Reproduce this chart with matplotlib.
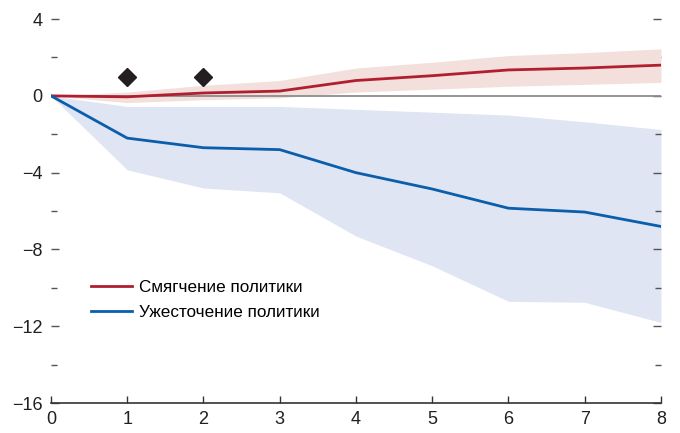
import matplotlib.pyplot as plt
from matplotlib.ticker import FixedLocator, NullFormatter

plt.rcParams['font.family'] = ['Liberation Sans', 'DejaVu Sans']
plt.rcParams['font.size'] = 13

steps = [0, 1, 2, 3, 4, 5, 6, 7, 8]

# easing
ease_mid = [0, -0.05, 0.15, 0.25, 0.8, 1.05, 1.35, 1.45, 1.6]
ease_hi = [0, 0.2, 0.55, 0.8, 1.45, 1.75, 2.1, 2.25, 2.45]
ease_lo = [0, -0.35, -0.2, -0.1, 0.2, 0.35, 0.5, 0.6, 0.7]

# tightening
tight_mid = [0, -2.2, -2.7, -2.8, -4.0, -4.85, -5.85, -6.05, -6.8]
tight_hi = [0, -0.55, -0.55, -0.55, -0.7, -0.85, -1.0, -1.35, -1.75]
tight_lo = [0, -3.85, -4.8, -5.05, -7.3, -8.85, -10.7, -10.75, -11.8]

marker_x = [1, 2]
marker_y = [1, 1]

labels = ['Смягчение политики', 'Ужесточение политики']

red = '#b01f30'
blue = '#0b5eab'

fig = plt.figure(figsize=(6.8, 4.33), dpi=100)
ax = fig.add_axes([0.075, 0.069, 0.897, 0.887])

ax.fill_between(steps, tight_lo, tight_hi, color='#dfe5f2', lw=0, zorder=1)
ax.fill_between(steps, ease_lo, ease_hi, color='#f3dfdb', lw=0, zorder=2)
ax.axhline(0, color='#8c8c8c', lw=1.3, zorder=3)
ax.plot(steps, ease_mid, color=red, lw=2, zorder=4, label=labels[0])
ax.plot(steps, tight_mid, color=blue, lw=2, zorder=4, label=labels[1])
ax.plot(marker_x, marker_y, 'D', color='#231f20', markersize=9, ls='none', zorder=5)

ax.set_xlim(0, 8)
ax.set_ylim(-16, 4)
ax.set_xticks(steps)
ax.set_yticks([-16, -12, -8, -4, 0, 4])
ax.set_yticklabels(['\u221216', '\u221212', '\u22128', '\u22124', '0', '4'])
ax.yaxis.set_minor_locator(FixedLocator([-14, -10, -6, -2, 2]))
ax.yaxis.set_minor_formatter(NullFormatter())

for s in ['top', 'left', 'right']:
    ax.spines[s].set_visible(False)
ax.spines['bottom'].set_color('#333333')
ax.spines['bottom'].set_linewidth(1.2)

ax.tick_params(axis='x', direction='in', length=5, width=1, color='#333333', pad=6)
ax.tick_params(axis='y', which='major', direction='in', length=6, width=1,
               color='#555555', left=True, right=True, pad=6)
ax.tick_params(axis='y', which='minor', direction='in', length=4, width=1,
               color='#555555', left=True, right=True)
ax.tick_params(axis='both', labelcolor='#231f20')

ax.legend(loc='center left', bbox_to_anchor=(0.04, 0.268), frameon=False,
          handlelength=2.4, handletextpad=0.45, labelspacing=0.6, fontsize=12.3)

fig.savefig('out.png', dpi=100)
